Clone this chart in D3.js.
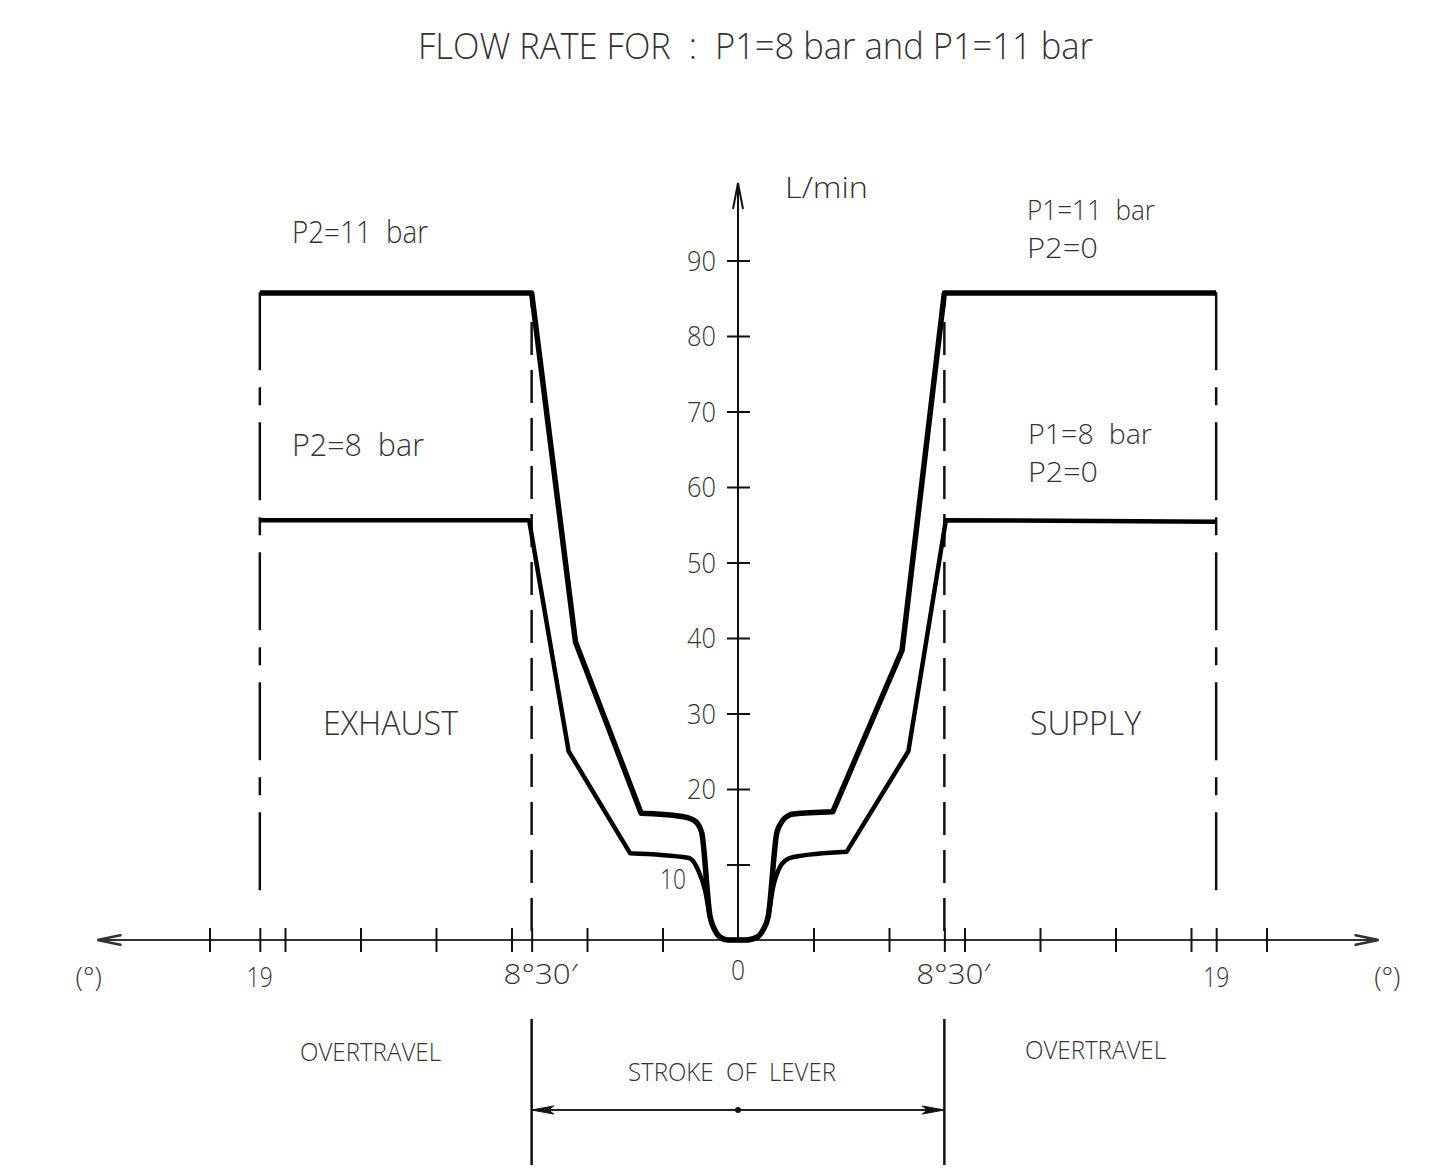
<!DOCTYPE html>
<html>
<head>
<meta charset="utf-8">
<script src="https://cdn.jsdelivr.net/npm/d3@7"></script>
<style>
  body { margin: 0; background: #fff; }
  text { font-family: "Open Sans", "DejaVu Sans Condensed", sans-serif; font-weight: 300; fill: #333; white-space: pre; }
</style>
</head>
<body>
<div id="chart"></div>
<script>
// lever angle (scale units, one tick = 3) and flow rate in L/min
const regularTicks = [-21, -18, -15, -12, -9, -6, -3, 3, 6, 9, 12, 15, 18, 21]
const strokeEnd = 8.2
const overtravelEnd = 19
const xLabelPos = [-19, -8.2, 0, 8.2, 19]
const xLabelText = ['19', '8°30′', '0', '8°30′', '19']
const yTicks = [10, 20, 30, 40, 50, 60, 70, 80, 90]

// P = 11 bar (thick line)
const flow11 = [
  [-19, 85.7], [-8.2, 85.7], [-6.46, 39.5], [-3.85, 16.8], [-2.3, 16.4],
  [-1.91, 16.1], [-1.63, 15.5], [-1.44, 14.2], [-1.11, 3.1], [-0.95, 1.5],
  [-0.72, 0.4], [-0.4, 0], [0.35, 0], [0.79, 0.44], [0.99, 1.3],
  [1.2, 3.1], [1.54, 14.2], [1.71, 15.5], [2.07, 16.6], [2.2, 16.7],
  [3.77, 17.0], [6.52, 38.4], [8.2, 85.7], [19, 85.7]
]

// P = 8 bar
const flow8 = [
  [-19, 55.6], [-8.3, 55.6], [-6.73, 25.0], [-4.29, 11.5], [-1.99, 10.9],
  [-1.75, 10.3], [-1.59, 9.3], [-1.31, 6.6], [-1.11, 3.1], [-0.95, 1.5],
  [-0.72, 0.4], [-0.4, 0], [0.35, 0], [0.79, 0.44], [0.99, 1.3],
  [1.2, 3.1], [1.39, 6.9], [1.67, 9.7], [1.91, 10.6], [2.2, 11.0],
  [4.32, 11.7], [6.77, 25.0], [8.26, 55.6], [19, 55.4]
]

// the rounded "bucket" between the two shelves
const bucketFrom = 3
const bucketTo = 20

const W = 1429
const H = 1168

const svg = d3.select('#chart')
  .append('svg')
  .attr('width', W)
  .attr('height', H)

svg.append('rect').attr('width', W).attr('height', H).attr('fill', '#fff')

const x = d3.scaleLinear().domain([-21, 21]).range([209.5, 1266.5])
const y = d3.scaleLinear().domain([0, 90]).range([940, 260.5])

const ink = '#111'

// title
svg.append('text')
  .attr('x', 418).attr('y', 59)
  .attr('font-size', 36)
  .attr('textLength', 675).attr('lengthAdjust', 'spacingAndGlyphs')
  .text('FLOW RATE FOR  :  P1=8 bar and P1=11 bar')

// x axis line with open arrows at both ends
const xEnd = 25.45
svg.append('line')
  .attr('x1', x(-xEnd)).attr('x2', x(xEnd))
  .attr('y1', y(0)).attr('y2', y(0))
  .attr('stroke', '#333').attr('stroke-width', 2)

const arrow = (tipX, tipY, dx, dy, px, py) => `M${tipX + dx + px},${tipY + dy + py}L${tipX},${tipY}L${tipX + dx - px},${tipY + dy - py}`
svg.append('path').attr('d', arrow(x(-xEnd), y(0), 24, 0, 0, 5))
  .attr('fill', 'none').attr('stroke', '#333').attr('stroke-width', 2.5)
svg.append('path').attr('d', arrow(x(xEnd), y(0), -24, 0, 0, 5))
  .attr('fill', 'none').attr('stroke', '#333').attr('stroke-width', 2.5)

const xAxis = d3.axisBottom(x)
  .tickValues(regularTicks.concat([-overtravelEnd, -strokeEnd, strokeEnd, overtravelEnd]))
  .tickSize(12)
  .tickFormat('')

const gx = svg.append('g')
  .attr('transform', `translate(0,${y(0)})`)
  .call(xAxis)
gx.select('.domain').remove()
gx.selectAll('.tick line')
  .attr('y1', -12).attr('y2', 12)
  .attr('stroke', ink).attr('stroke-width', 2)

svg.selectAll('.xlab')
  .data(xLabelPos)
  .join('text')
  .attr('class', 'xlab')
  .attr('x', (d, i) => x(d) + (xLabelText[i].length > 2 ? 9 : 0))
  .attr('y', (d, i) => d === 0 ? 980 : (xLabelText[i].length > 2 ? 984 : 987))
  .attr('text-anchor', 'middle')
  .attr('font-size', 27)
  .attr('textLength', (d, i) => xLabelText[i].length > 2 ? 74 : (d === 0 ? 14 : 26))
  .attr('lengthAdjust', 'spacingAndGlyphs')
  .text((d, i) => xLabelText[i])

svg.selectAll('.unitx')
  .data([-25.8, 25.8])
  .join('text')
  .attr('class', 'unitx')
  .attr('x', d => x(d))
  .attr('y', 987)
  .attr('text-anchor', 'middle')
  .attr('font-size', 27)
  .text('(°)')

// y axis with arrow
svg.append('line')
  .attr('x1', x(0)).attr('x2', x(0))
  .attr('y1', y(0)).attr('y2', 184)
  .attr('stroke', ink).attr('stroke-width', 2)
svg.append('path').attr('d', arrow(x(0), 183, 0, 26, 5, 0))
  .attr('fill', 'none').attr('stroke', ink).attr('stroke-width', 2)

const yAxis = d3.axisLeft(y)
  .tickValues(yTicks)
  .tickSize(11)
  .tickPadding(11)
const gy = svg.append('g')
  .attr('transform', `translate(${x(0)},0)`)
  .call(yAxis)
gy.select('.domain').remove()
gy.selectAll('.tick line')
  .attr('x1', 12)
  .attr('stroke', ink).attr('stroke-width', 2)
gy.selectAll('.tick text')
  .attr('font-size', 27)
  .attr('font-family', '"Open Sans", "DejaVu Sans Condensed", sans-serif')
  .attr('font-weight', 300)
  .attr('fill', '#333')
  .attr('dy', '0.36em')
  .attr('textLength', 29).attr('lengthAdjust', 'spacingAndGlyphs')
// the "10" label sits lower and to the left in the drawing
gy.selectAll('.tick text')
  .filter(d => d === 10)
  .attr('x', -52).attr('dy', '0.9em')
  .attr('textLength', 26)

svg.append('text')
  .attr('x', 785).attr('y', 198)
  .attr('font-size', 30)
  .attr('textLength', 83).attr('lengthAdjust', 'spacingAndGlyphs')
  .text('L/min')

// limit lines: dash-dot at end of overtravel, dashed at end of stroke
svg.selectAll('.over')
  .data([-overtravelEnd, overtravelEnd])
  .join('line')
  .attr('class', 'over')
  .attr('x1', d => x(d)).attr('x2', d => x(d))
  .attr('y1', y(85.8)).attr('y2', 905)
  .attr('stroke', ink).attr('stroke-width', 2.5)
  .attr('stroke-dasharray', '78,17,18,17')

svg.selectAll('.strokeLim')
  .data([-strokeEnd, strokeEnd])
  .join('line')
  .attr('class', 'strokeLim')
  .attr('x1', d => x(d)).attr('x2', d => x(d))
  .attr('y1', y(85.7)).attr('y2', 936)
  .attr('stroke', ink).attr('stroke-width', 2.5)
  .attr('stroke-dasharray', '33,15')
  .attr('stroke-dashoffset', 19)

// flow curves: straight flanks, smooth bucket in the middle
const straight = d3.line()
  .x(d => x(d[0]))
  .y(d => y(d[1]))
const smooth = d3.line()
  .x(d => x(d[0]))
  .y(d => y(d[1]))
  .curve(d3.curveMonotoneX)

function flowPath (pts) {
  const left = straight(pts.slice(0, bucketFrom + 1))
  const mid = smooth(pts.slice(bucketFrom, bucketTo + 1)).replace(/^M/, 'L')
  const right = straight(pts.slice(bucketTo)).replace(/^M/, 'L')
  return left + mid + right
}

svg.append('path')
  .attr('d', flowPath(flow8))
  .attr('fill', 'none')
  .attr('stroke', '#000')
  .attr('stroke-width', 4.5)
  .attr('stroke-linejoin', 'round')

svg.append('path')
  .attr('d', flowPath(flow11))
  .attr('fill', 'none')
  .attr('stroke', '#000')
  .attr('stroke-width', 5.5)
  .attr('stroke-linejoin', 'round')

// annotations
const notes = [
  { t: 'P2=11  bar', x: 292, y: 243, w: 136, fs: 32 },
  { t: 'P2=8  bar', x: 292, y: 456, w: 132, fs: 32 },
  { t: 'P1=11  bar', x: 1027, y: 220, w: 128, fs: 28 },
  { t: 'P2=0', x: 1027, y: 258, w: 71, fs: 28 },
  { t: 'P1=8  bar', x: 1028, y: 444, w: 124, fs: 28 },
  { t: 'P2=0', x: 1028, y: 482, w: 70, fs: 28 },
  { t: 'EXHAUST', x: 323, y: 735, w: 135, fs: 33 },
  { t: 'SUPPLY', x: 1030, y: 735, w: 111, fs: 33 },
  { t: 'OVERTRAVEL', x: 300, y: 1061, w: 141, fs: 25 },
  { t: 'OVERTRAVEL', x: 1025, y: 1059, w: 141, fs: 25 },
  { t: 'STROKE  OF  LEVER', x: 628, y: 1081, w: 208, fs: 25 }
]
svg.selectAll('.note')
  .data(notes)
  .join('text')
  .attr('class', 'note')
  .attr('x', d => d.x).attr('y', d => d.y)
  .attr('font-size', d => d.fs)
  .attr('textLength', d => d.w).attr('lengthAdjust', 'spacingAndGlyphs')
  .text(d => d.t)

// stroke of lever dimension
svg.selectAll('.dimV')
  .data([-strokeEnd, strokeEnd])
  .join('line')
  .attr('class', 'dimV')
  .attr('x1', d => x(d)).attr('x2', d => x(d))
  .attr('y1', 1019).attr('y2', 1165)
  .attr('stroke', ink).attr('stroke-width', 2.5)

const dimY = 1110
svg.append('line')
  .attr('x1', x(-strokeEnd)).attr('x2', x(strokeEnd))
  .attr('y1', dimY).attr('y2', dimY)
  .attr('stroke', '#222').attr('stroke-width', 2)

svg.selectAll('.dimArrow')
  .data([-1, 1])
  .join('path')
  .attr('class', 'dimArrow')
  .attr('d', s => {
    const tx = x(s * strokeEnd)
    return `M${tx},${dimY}L${tx - s * 22},${dimY - 4}L${tx - s * 17},${dimY}L${tx - s * 22},${dimY + 4}Z`
  })
  .attr('fill', ink).attr('stroke', ink).attr('stroke-width', 1)

svg.append('circle')
  .attr('cx', x(0)).attr('cy', dimY)
  .attr('r', 3)
  .attr('fill', ink)
</script>
</body>
</html>
